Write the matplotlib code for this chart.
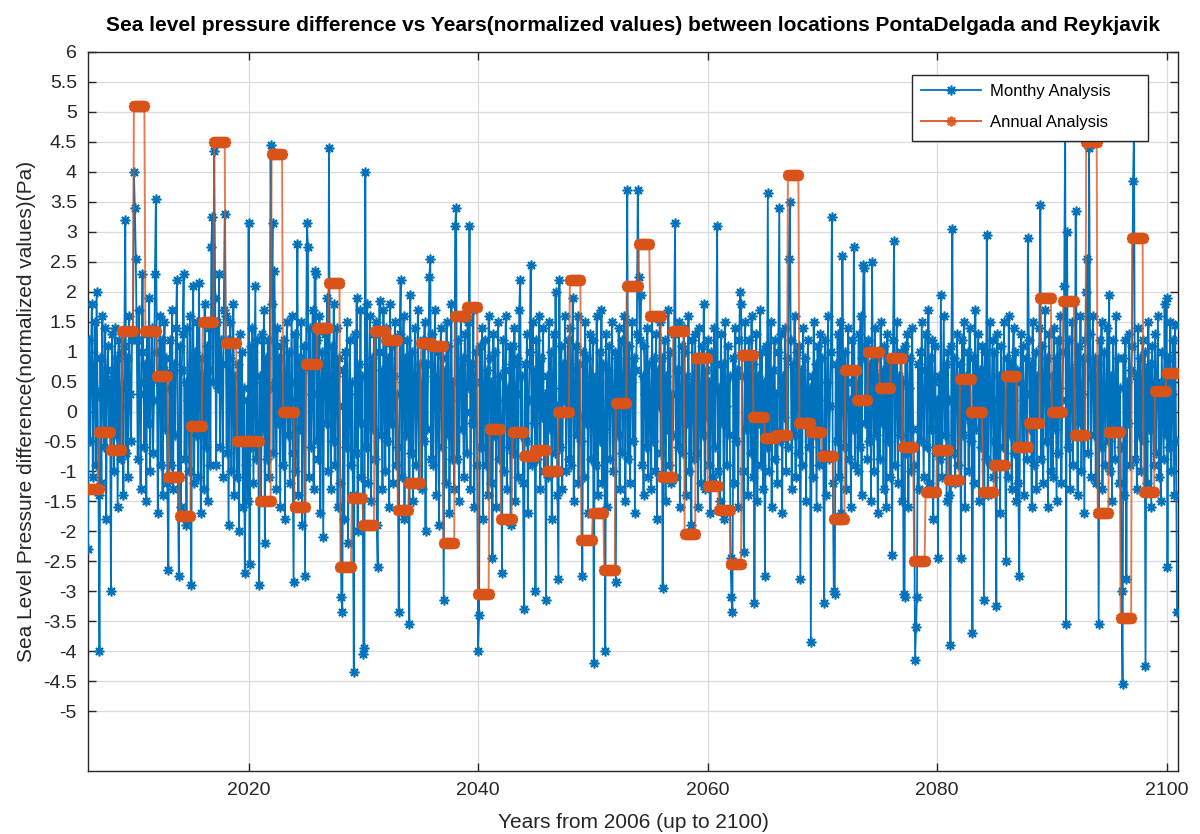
import numpy as np
import matplotlib
matplotlib.use("Agg")
import matplotlib.pyplot as plt
from matplotlib.ticker import FuncFormatter
from matplotlib.lines import Line2D
from matplotlib.patches import Rectangle

plt.rcParams['font.family'] = ['Liberation Sans', 'DejaVu Sans']

start_year = 2006
end_year = 2100

# Monthly normalized values, one row per year (Jan..Dec), 2006..2100
monthly = [
    -2.3, 1.2, -0.5, 0.8, 1.8, -1.1, 0.4, 1.5, -0.9, 2.0, 0.3, -1.4,   # 2006
    -4.0, 0.9, -1.2, 1.6, 0.2, -0.6, 1.4, -1.8, 0.7, 1.1, -0.3, 0.5,   # 2007
    -3.0, 1.3, 0.6, -1.0, 1.4, -0.4, 0.9, -1.6, 1.2, 0.1, -0.8, 1.0,   # 2008
    0.4, -1.4, 1.1, 3.2, -0.7, 0.9, -1.1, 1.6, 0.3, -0.5, 1.2, 1.3,    # 2009
    4.0, 3.4, 2.55, 1.2, -0.8, 1.7, 0.3, -1.3, 1.0, 2.3, 0.5, -0.6,    # 2010
    0.8, -1.5, 1.3, -0.2, 1.9, -1.0, 0.6, 1.4, -0.7, 0.2, 2.3, 3.55,   # 2011
    1.0, -1.7, 0.5, 1.6, -0.9, 1.2, -1.4, 0.7, 1.5, -0.3, 0.9, -1.2,   # 2012
    -2.65, 0.4, 1.2, -0.9, 1.7, -1.3, 0.8, -0.4, 1.4, 2.2, -1.1, -2.75,  # 2013
    1.1, -1.6, 0.7, 1.3, 2.3, -0.8, 0.5, -1.9, 1.4, 0.2, -1.0, 1.6,    # 2014
    -2.9, 0.8, 2.1, -1.2, 1.0, -0.4, 1.5, -1.1, 2.15, 0.6, -1.7, 0.9,  # 2015
    0.3, -1.3, 1.8, -0.6, 1.1, -1.5, 0.7, 1.4, -0.9, 2.75, 3.25, 0.5,  # 2016
    4.35, 1.9, -0.9, 1.5, 0.4, 2.3, -0.6, 1.2, 0.8, -1.1, 1.7, 3.3,    # 2017
    1.6, -0.7, 1.2, -1.9, 0.9, 1.5, -1.0, 0.3, 1.8, -1.4, 0.6, -0.2,   # 2018
    -1.1, 0.8, -2.0, 1.3, -0.5, 1.0, -1.6, 0.4, -2.7, -0.9, 0.2, -1.5, # 2019
    3.15, -2.55, 1.1, -0.6, 1.4, -1.2, 0.5, 2.1, -0.8, 1.2, -0.4, -2.9,  # 2020
    0.6, -1.5, 1.3, -0.3, 1.7, -2.2, 0.9, -0.8, 1.2, -1.1, 0.4, 4.45,  # 2021
    1.8, 3.15, -0.7, 2.35, 0.5, -1.3, 1.4, -0.2, 0.9, -1.6, 1.1, 0.3,  # 2022
    -0.9, 1.2, -1.8, 0.6, 1.5, -0.4, 1.0, -1.2, 0.2, 1.6, -0.7, -2.85, # 2023
    1.3, -1.0, 0.5, 2.8, -1.4, 0.9, -0.3, 1.5, -1.9, 0.7, 1.1, -2.75,  # 2024
    0.8, 3.15, 2.75, -1.1, 1.4, -0.6, 0.3, 1.7, -1.3, 2.35, 2.3, -0.5, # 2025
    1.2, -0.8, 1.6, -1.7, 0.4, 1.0, -2.1, 0.8, 1.3, -0.2, 1.9, -1.0,   # 2026
    4.4, 0.2, -1.3, 1.1, -0.5, 1.8, -0.9, 0.6, 1.4, -1.6, 0.9, 0.1,    # 2027
    -1.2, -3.1, -3.35, 0.7, -1.8, 1.0, -0.6, 1.5, -2.2, 0.3, 1.2, -0.9,  # 2028
    0.5, -1.4, -4.35, 1.3, -0.7, 1.9, -2.0, 0.8, -0.2, 1.7, -1.1, 0.6,   # 2029
    -4.05, -3.95, 4.0, -0.6, 1.8, -1.2, 0.4, 1.6, -1.5, 0.9, -0.3, 1.3,  # 2030
    -0.8, 1.5, -1.9, -2.6, 1.0, 1.85, -0.4, 0.7, -1.3, 1.7, 0.2, -1.0,   # 2031
    1.4, -0.5, 0.9, -1.6, 1.8, -0.2, 1.1, -1.2, 0.6, 1.5, -0.9, 0.3,     # 2032
    -0.6, -3.35, 1.3, 2.2, -1.1, 0.5, 1.6, -1.8, 0.9, -0.4, 1.2, 0.7,    # 2033
    -3.55, 1.95, -0.7, 1.0, -1.5, 0.6, 1.4, -0.9, 0.2, 1.7, -1.2, 0.8,   # 2034
    0.4, -1.3, 1.2, -0.5, 1.5, -2.0, 0.8, -0.3, 1.1, 2.25, 2.55, -0.8,   # 2035
    1.3, -0.9, 0.6, 1.7, -1.4, 0.3, 1.0, -1.9, 0.5, 1.4, -0.6, 0.9,      # 2036
    -3.15, 0.7, -1.2, 1.5, -0.4, 1.1, -1.7, 0.2, 1.8, -0.8, 0.5, -1.3,   # 2037
    3.1, 3.4, -0.8, 1.2, -1.5, 0.6, 1.6, -0.3, 0.9, -1.1, 1.3, 0.0,      # 2038
    -0.7, 1.5, 0.4, 3.1, -1.3, 0.8, -0.2, 1.7, -1.6, 0.5, 1.0, -0.9,     # 2039
    -4.0, -3.4, 1.1, -0.6, 1.4, -1.8, 0.3, 1.2, -0.9, 0.7, -1.4, 1.6,    # 2040
    0.9, -1.2, 0.5, -2.45, 1.3, -0.4, 1.0, -1.6, 0.2, 1.5, -0.8, 0.6,    # 2041
    -0.3, -2.7, 1.2, -1.0, 0.7, 1.6, -1.3, 0.4, -0.6, 1.1, -1.9, 0.8,    # 2042
    1.1, -0.7, 1.4, -1.5, 0.3, 0.9, -1.1, 1.7, 2.2, -0.4, 0.6, -1.2,     # 2043
    -3.3, 0.8, -0.5, 1.3, -1.7, 0.2, 1.0, 2.45, -0.9, 1.5, -0.2, 0.7,    # 2044
    -3.0, 1.2, -0.8, 0.5, 1.6, -1.3, 0.9, -0.1, 1.4, -1.0, 0.3, -3.15,   # 2045
    0.6, -1.1, 1.5, -0.3, 1.0, -1.8, 0.4, 1.3, -0.7, 2.0, 0.1, -1.4,     # 2046
    -2.8, 2.2, -0.6, 1.1, -1.3, 0.8, 0.2, 1.6, -1.0, 0.5, 1.2, -0.8,     # 2047
    1.4, -0.9, 0.7, 1.9, -1.5, 0.3, 1.1, -0.4, 1.6, -1.2, 0.8, -0.1,     # 2048
    -0.5, -2.75, 1.0, -1.1, 1.5, -0.2, 0.9, -1.7, 0.4, 1.3, -0.8, 0.6,   # 2049
    1.2, -4.2, 0.5, -0.9, 1.6, -1.4, 0.2, 1.0, -0.5, 1.7, -1.2, 0.8,     # 2050
    -0.3, -4.0, 1.3, -1.6, 0.7, 1.1, -0.8, 0.4, 1.5, -1.0, 0.1, 1.0,     # 2051
    -2.85, 0.9, -0.4, 1.4, -1.3, 0.6, 1.2, -0.7, 0.3, 1.6, -1.5, 0.5,    # 2052
    3.7, -0.8, 1.1, -1.2, 0.5, 1.5, -0.5, 0.9, -1.7, 0.7, 1.3, 3.7,      # 2053
    2.25, 1.2, 1.95, -0.9, 0.6, -1.4, 1.1, 0.3, -0.6, 1.4, -1.1, 0.8,    # 2054
    0.2, -1.3, 1.6, -0.5, 0.9, -1.0, 1.3, -1.8, 0.7, 0.1, 1.5, -0.7,     # 2055
    0.9, -2.95, 0.4, 1.2, -1.5, 0.6, -0.3, 1.7, -0.9, 1.0, -1.2, 0.3,    # 2056
    -0.4, 1.3, 3.15, -1.1, 0.7, -0.6, 1.5, -1.6, 0.2, 1.1, -0.7, 1.4,    # 2057
    1.0, -1.4, 0.6, -0.2, 1.6, -1.0, 0.4, -1.9, 1.2, 0.5, -0.8, 1.3,     # 2058
    -0.7, 0.9, -1.6, 1.4, 0.2, -1.2, 1.1, -0.4, 1.8, -1.3, 0.7, -0.1,    # 2059
    1.2, -0.9, 0.5, -1.7, 1.0, 0.3, -1.1, 1.4, -0.6, 0.8, 3.1, -1.0,     # 2060
    0.4, -1.5, 1.3, -0.2, 0.8, -1.8, 1.5, 0.1, -0.9, 1.1, -0.4, 0.6,     # 2061
    -2.45, -3.1, -3.35, 0.9, -1.2, 1.4, -0.5, 0.7, -1.6, 1.2, 2.0, 1.8,  # 2062
    0.6, -1.0, -2.35, 1.5, -0.3, 0.9, -1.4, 1.2, 0.4, -0.7, 1.6, -1.1,   # 2063
    0.8, -3.2, 0.3, 1.3, -1.5, 0.6, -0.2, 1.7, -0.9, 1.0, -1.3, 0.5,     # 2064
    -2.75, 1.1, -0.6, 3.65, -1.0, 0.4, 1.5, -1.6, 0.7, -0.3, 1.2, -0.8,  # 2065
    0.3, -1.2, 1.0, 3.4, -0.5, 1.3, -1.7, 0.6, -0.1, 1.4, -1.0, 0.9,     # 2066
    -0.6, 2.55, 3.5, 1.2, -1.3, 0.8, -0.4, 1.6, -1.1, 0.5, 1.0, -0.7,    # 2067
    1.1, -2.8, 0.7, -0.9, 1.4, -0.2, 0.9, -1.5, 0.3, 1.2, -0.6, 0.4,     # 2068
    -3.85, 0.6, -1.1, 1.5, -0.4, 0.8, -1.6, 1.1, 0.2, -0.9, 1.3, -0.3,   # 2069
    0.9, -0.7, -3.2, 1.2, -1.4, 0.5, 1.6, -0.8, 0.1, 1.0, 3.25, -1.2,    # 2070
    -3.0, -3.05, 0.8, -0.5, 1.3, -1.1, 0.4, 1.5, -1.7, 2.6, 0.2, -0.6,   # 2071
    1.0, -1.3, 0.5, 1.4, -0.8, 0.2, -1.6, 1.2, -0.3, 2.75, -0.9, 0.7,    # 2072
    0.4, -1.0, 1.3, -0.6, 1.6, -1.4, 0.9, 2.45, 2.4, -0.2, 1.1, -0.8,    # 2073
    1.2, -0.5, 0.8, -1.5, 2.5, 0.3, -1.0, 1.4, -0.4, 0.9, -1.7, 0.6,     # 2074
    -0.8, 1.5, -0.2, 0.7, -1.3, 1.1, 0.4, -1.6, 1.3, -0.5, 0.8, -1.1,    # 2075
    0.7, -2.4, 1.2, 2.85, -0.9, 0.3, 1.5, -1.2, 0.6, -0.4, 1.0, -1.5,    # 2076
    0.5, -3.05, -3.1, 1.1, -0.7, 1.3, -1.6, 0.4, 0.9, -1.0, 1.4, -0.3,   # 2077
    -0.9, -4.15, -3.6, -3.1, 0.8, -1.3, 1.0, -0.5, 1.5, 0.2, -1.1, 0.7,  # 2078
    1.3, -0.6, 0.4, 1.7, -1.2, 0.9, -0.3, 1.2, -1.8, 0.5, 1.1, -0.7,     # 2079
    0.2, -2.45, 0.6, -0.8, 1.95, -1.1, 0.3, 1.6, -0.4, 0.8, -1.5, 1.0,   # 2080
    0.2, -1.4, -3.9, 1.1, 3.05, -0.7, 0.9, -1.2, 0.5, 1.3, -0.9, 0.4,    # 2081
    0.8, -2.45, 1.2, -0.4, 1.5, -1.6, 0.6, -0.1, 1.0, -1.0, 1.4, -0.5,   # 2082
    -0.2, -3.7, 0.9, -1.2, 1.7, -0.3, 0.5, 1.3, -1.5, 0.7, -0.6, 1.1,    # 2083
    0.6, -3.15, 1.0, -0.8, 2.95, -1.4, 0.4, 1.5, -0.9, 0.2, 1.2, -1.1,   # 2084
    1.0, -0.5, -3.25, 1.3, -0.9, 0.6, -1.7, 1.1, 0.3, -0.6, 1.5, -0.2,   # 2085
    -2.5, 0.9, -1.1, 1.6, -0.4, 0.8, -1.3, 0.2, 1.4, -0.7, 1.0, -1.5,    # 2086
    0.7, -1.2, -2.75, 0.5, 1.3, -0.6, 1.1, -1.4, 0.3, 0.9, -0.8, 2.9,    # 2087
    1.2, -0.3, 0.8, -1.6, 1.5, -0.9, 0.4, 1.0, -1.3, 0.6, -0.2, 1.4,     # 2088
    3.45, -0.8, 1.1, -1.2, 0.5, 1.7, -0.5, 0.9, -1.6, 1.3, 0.1, -1.0,    # 2089
    0.6, -1.1, 1.4, -0.3, 0.9, -1.5, 1.2, -0.7, 0.4, 1.6, -1.2, 0.2,     # 2090
    1.0, 2.1, 4.9, -3.55, 3.0, -0.6, 1.2, -1.3, 0.5, 1.5, -0.9, 0.7,     # 2091
    -0.4, 3.35, 0.8, -1.4, 1.1, -0.2, 1.6, -1.0, 0.3, 0.9, -1.7, 1.2,    # 2092
    2.0, 2.55, -0.7, 4.4, 1.3, -1.1, 0.6, 1.6, -0.4, 0.9, -1.2, 0.5,     # 2093
    0.8, -3.55, 1.2, -0.6, 1.5, -1.3, 0.4, 1.0, -0.9, 0.3, 1.4, -0.5,    # 2094
    1.95, -1.0, 0.6, -1.5, 1.2, 0.2, -0.8, 1.6, -0.3, 0.9, -1.2, 0.4,    # 2095
    -0.6, -3.0, -4.55, 0.9, -1.4, 1.2, -2.8, 0.5, -0.2, 1.3, -0.9, 0.7,  # 2096
    1.1, 3.85, 4.7, -0.8, 0.6, -1.3, 1.4, -0.4, 0.9, -1.0, 0.3, 1.2,     # 2097
    -0.5, 1.0, -4.25, 0.7, -1.2, 1.5, -0.3, 0.8, -1.6, 1.1, 0.2, -0.9,   # 2098
    1.3, -0.7, 0.5, 1.6, -1.1, 0.4, -1.5, 1.0, 0.1, -0.8, 1.8, -0.4,     # 2099
    1.9, -2.6, 0.9, -0.6, 1.5, -1.0, 0.3, 1.2, -1.4, 1.45, -0.5, -3.35,  # 2100
]

# Annual normalized values, 2006..2100
annual = [
    -1.3, -0.35, -0.65, 1.35, 5.1, 1.35, 0.6, -1.1, -1.75, -0.25,   # 2006-2015
    1.5, 4.5, 1.15, -0.5, -0.5, -1.5, 4.3, 0.0, -1.6, 0.8,          # 2016-2025
    1.4, 2.15, -2.6, -1.45, -1.9, 1.35, 1.2, -1.65, -1.2, 1.15,     # 2026-2035
    1.1, -2.2, 1.6, 1.75, -3.05, -0.3, -1.8, -0.35, -0.75, -0.65,   # 2036-2045
    -1.0, 0.0, 2.2, -2.15, -1.7, -2.65, 0.15, 2.1, 2.8, 1.6,        # 2046-2055
    -1.1, 1.35, -2.05, 0.9, -1.25, -1.65, -2.55, 0.95, -0.1, -0.45, # 2056-2065
    -0.4, 3.95, -0.2, -0.35, -0.75, -1.8, 0.7, 0.2, 1.0, 0.4,       # 2066-2075
    0.9, -0.6, -2.5, -1.35, -0.65, -1.15, 0.55, 0.0, -1.35, -0.9,   # 2076-2085
    0.6, -0.6, -0.2, 1.9, 0.0, 1.85, -0.4, 4.5, -1.7, -0.35,        # 2086-2095
    -3.45, 2.9, -1.35, 0.35, 0.65,                                  # 2096-2100
]

title = ("Sea level pressure difference vs Years(normalized values) "
         "between locations PontaDelgada and Reykjavik")
xlabel = "Years from 2006 (up to 2100)"
ylabel = "Sea Level Pressure difference(normalized values)(Pa)"
series_names = ["Monthy Analysis", "Annual Analysis"]
xticks = [2020, 2040, 2060, 2080, 2100]
yticks = [-5, -4.5, -4, -3.5, -3, -2.5, -2, -1.5, -1, -0.5, 0, 0.5, 1,
          1.5, 2, 2.5, 3, 3.5, 4, 4.5, 5, 5.5, 6]

blue = (0.0, 0.447, 0.741)
orange = (0.850, 0.325, 0.098)
axis_col = (0.15, 0.15, 0.15)

n_years = end_year - start_year + 1
t = start_year + np.arange(12 * n_years) / 12.0
m = np.array(monthly)
a = np.repeat(np.array(annual), 12)

W, H = 1200, 834
L, R, T, B = 88, 1178, 52, 771
fig = plt.figure(figsize=(W / 100, H / 100), dpi=100)
ax = fig.add_axes([L / W, 1 - B / H, (R - L) / W, (B - T) / H])

star = (8, 2, 0)
ax.plot(t, m, color=blue, lw=1.3, marker=star, ms=7, mew=1.2, zorder=3)
ax.plot(t, a, color=orange, lw=1.4, alpha=0.75, zorder=4)
ax.plot(t, a, ls='none', color=orange, marker=star, ms=8, mew=2.4, zorder=5)

ax.set_xlim(start_year, end_year + 1)
ax.set_ylim(-6, 6)
ax.set_xticks(xticks)
ax.set_yticks(yticks)
ax.yaxis.set_major_formatter(FuncFormatter(lambda v, p: f"{v:g}"))

ax.grid(True, color=(0.86, 0.86, 0.86), lw=0.9, zorder=0)
ax.set_axisbelow(True)
ax.tick_params(direction='in', length=6, width=1.0, colors=axis_col,
               labelsize=14, top=True, right=True, pad=8)
for sp in ax.spines.values():
    sp.set_color(axis_col)
    sp.set_linewidth(1.0)

ax.set_title(title, fontsize=15, fontweight='bold', pad=15, color='black')
ax.set_xlabel(xlabel, fontsize=15, color=axis_col, labelpad=10)
ax.set_ylabel(ylabel, fontsize=15, color=axis_col, labelpad=5)

# legend box (pixel geometry of the reference)
bx0, bx1, by0, by1 = 912, 1148, 75, 141
box = Rectangle(((bx0 - L) / (R - L), 1 - (by1 - T) / (B - T)),
                (bx1 - bx0) / (R - L), (by1 - by0) / (B - T),
                transform=ax.transAxes, facecolor='white', edgecolor=axis_col,
                lw=1.0, zorder=8)
ax.add_patch(box)
handles = [Line2D([], [], color=blue, lw=1.3, marker=star, ms=7, mew=1.2),
           Line2D([], [], color=orange, lw=1.4, marker=star, ms=7, mew=1.6,
                  alpha=0.9)]
leg = ax.legend(handles, series_names, loc='upper left',
                bbox_to_anchor=((bx0 - L) / (R - L), 1 - (by0 - T) / (B - T)),
                fontsize=12, frameon=False, handlelength=3.6,
                borderpad=0.55, labelspacing=0.95, handletextpad=0.55,
                borderaxespad=0.0)
leg.set_zorder(9)

fig.savefig("out.png", dpi=100, facecolor='white')
